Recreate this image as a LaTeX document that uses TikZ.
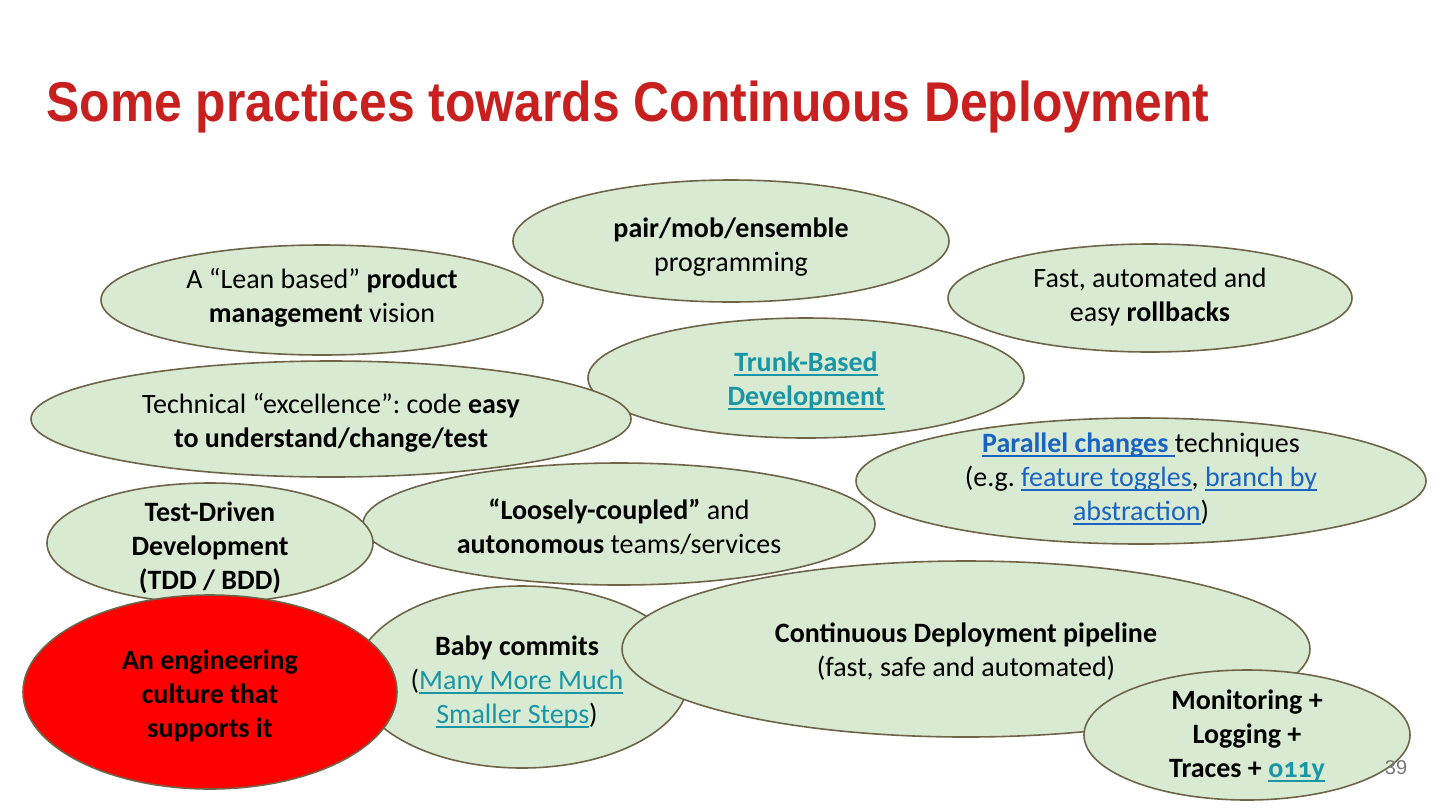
\documentclass[tikz,border=0pt]{standalone}
\usepackage{fontspec}
\setmainfont{Carlito}
\newfontfamily\titlefont{Liberation Sans}
\frenchspacing
\definecolor{bubfill}{RGB}{217,234,211}
\definecolor{bubdraw}{RGB}{110,100,72}
\definecolor{titlered}{RGB}{200,32,30}
\definecolor{linkteal}{RGB}{24,150,165}
\definecolor{linkblue}{RGB}{25,100,195}
\definecolor{pagegray}{RGB}{120,120,120}
\newcommand{\ulbox}[1]{\setbox0=\hbox{#1}\rlap{\rule[-2.0pt]{\wd0}{0.9pt}}\box0}
\newcommand{\tl}[1]{\textcolor{linkteal}{\ulbox{#1}}}
\newcommand{\bl}[1]{\textcolor{linkblue}{\ulbox{#1}}}
\tikzset{
  bub/.style={ellipse, draw=bubdraw, fill=bubfill, line width=0.8pt, inner sep=0pt},
  redbub/.style={ellipse, draw=bubdraw, fill=red, line width=0.8pt, inner sep=0pt},
  txt/.style={align=center, inner sep=0pt, font={\fontsize{14}{17}\selectfont}},
}
\usetikzlibrary{shapes.geometric}
\begin{document}
\begin{tikzpicture}[x=0.5pt,y=-0.5pt]
\useasboundingbox (0,0) rectangle (1440,810);
\fill[white] (0,0) rectangle (1440,810);
\node[anchor=base west, inner sep=0pt, text=titlered, font={\titlefont\bfseries\fontsize{28}{32}\selectfont}] (title) at (46,121) {\scalebox{0.89}[1]{Some practices towards Continuous Deployment}};

\node[bub, minimum width=218pt, minimum height=61pt] (e1) at (731,241) {};
\node[txt] (t1) at (731,247) {\textbf{pair/mob/ensemble}\\programming};

\node[bub, minimum width=221pt, minimum height=55pt] (e2) at (322,300) {};
\node[txt] (t2) at (322,298) {A “Lean based” \textbf{product}\\\textbf{management} vision};

\node[bub, minimum width=202pt, minimum height=54pt] (e3) at (1150,298) {};
\node[txt] (t3) at (1150,297) {Fast, automated and\\easy \textbf{rollbacks}};

\node[bub, minimum width=218pt, minimum height=60pt] (e4) at (806,378) {};
\node[txt] (t4) at (806,381) {\tl{\textbf{Trunk-Based}}\\\tl{\textbf{Development}}};

\node[bub, minimum width=300pt, minimum height=58pt] (e5) at (331,419) {};
\node[txt] (t5) at (331,423) {Technical “excellence”: code \textbf{easy}\\\textbf{to understand/change/test}};

\node[bub, minimum width=285pt, minimum height=63pt] (e6) at (1141,481) {};
\node[txt] (t6) at (1141,479) {\bl{\textbf{Parallel changes }}techniques\\(e.g. \bl{feature toggles}, \bl{branch by}\\\bl{abstraction})};

\node[bub, minimum width=256pt, minimum height=61pt] (e7) at (619,524) {};
\node[txt] (t7) at (619,527) {\textbf{“Loosely-coupled”} and\\\textbf{autonomous} teams/services};

\node[bub, minimum width=163pt, minimum height=60pt] (e8) at (210,543) {};
\node[txt] (t8) at (210,548) {\textbf{Test-Driven}\\\textbf{Development}\\\textbf{(TDD / BDD)}};

\node[bub, minimum width=167pt, minimum height=91pt] (e10) at (522,677) {};
\node[txt] (t10) at (517,682) {\textbf{Baby commits}\\(\tl{Many More Much}\\\tl{Smaller Steps})};

\node[bub, minimum width=344pt, minimum height=88pt] (e11) at (966,649) {};
\node[txt] (t11) at (966,652) {\textbf{Continuous Deployment pipeline}\\(fast, safe and automated)};

\node[bub, minimum width=163pt, minimum height=65pt] (e12) at (1247,735) {};
\node[txt] (t12) at (1247,736) {\textbf{Monitoring +}\\\textbf{Logging +}\\\textbf{Traces + }\tl{\textbf{\addfontfeature{Numbers=OldStyle}o11y}}};

\node[redbub, minimum width=187pt, minimum height=97pt] (e9) at (210,692) {};
\node[txt] (t9) at (210,696) {\textbf{An engineering}\\\textbf{culture that}\\\textbf{supports it}};

\node[anchor=base, inner sep=0pt, text=pagegray, font={\titlefont\fontsize{10}{12}\selectfont}] (page) at (1396,774) {39};
\end{tikzpicture}
\end{document}
